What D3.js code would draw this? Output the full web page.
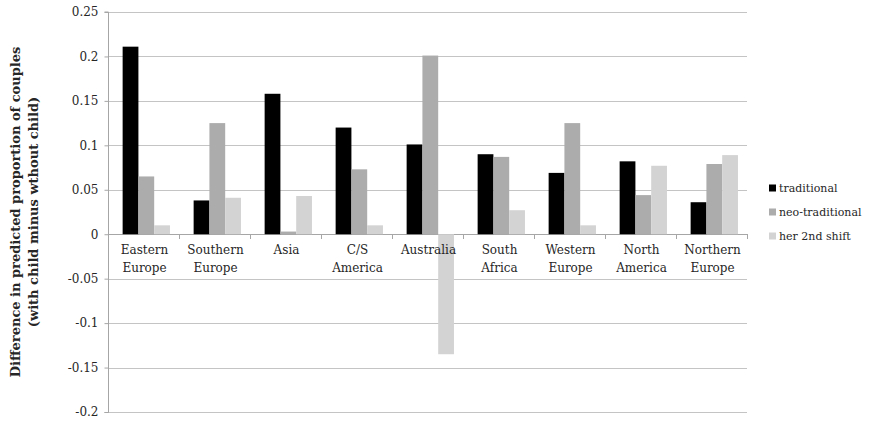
<!DOCTYPE html>
<html><head><meta charset="utf-8">
<script src="https://cdn.jsdelivr.net/npm/d3@7"></script>
<style>body{margin:0;background:#fff;} svg{display:block;} text{font-family:"DejaVu Serif",serif;fill:#262626;}</style>
</head><body><svg id="c" width="875" height="421"></svg>
<script>
const categories = [["Eastern","Europe"],["Southern","Europe"],["Asia"],["C/S","America"],["Australia"],["South","Africa"],["Western","Europe"],["North","America"],["Northern","Europe"]];
const seriesNames = ["traditional","neo-traditional","her 2nd shift"];
const traditional   = [0.211, 0.038, 0.158, 0.120, 0.101, 0.090, 0.069, 0.082, 0.036];
const neoTraditional = [0.065, 0.125, 0.003, 0.073, 0.201, 0.087, 0.125, 0.044, 0.079];
const her2ndShift   = [0.010, 0.041, 0.043, 0.010, -0.135, 0.027, 0.010, 0.077, 0.089];
const yTicks = [0.25,0.2,0.15,0.1,0.05,0,-0.05,-0.1,-0.15,-0.2];
const colors = ["#000000","#acacac","#d3d3d3"];
const series = [traditional, neoTraditional, her2ndShift];

const svg = d3.select("#c");
const L = 108, R = 747, T = 12, B = 412;
const y = d3.scaleLinear().domain([-0.2,0.25]).range([B,T]);
const idx = categories.map((d,i)=>i);
const x0 = d3.scaleBand().domain(idx).range([L,R]);
const bw = x0.bandwidth()/4.5;
const off = x0.bandwidth()*0.75/4.5 + 2.8;
const x1b = d3.scaleBand().domain([0,1,2]).range([off, off + 3*bw]);

// gridlines
svg.append("g").selectAll("line").data(yTicks).join("line")
  .attr("x1",L).attr("x2",R).attr("y1",d=>Math.round(y(d))+0.5).attr("y2",d=>Math.round(y(d))+0.5)
  .attr("stroke",d=>d===0?"#a6a6a6":"#c4c4c4").attr("stroke-width",1);

// bars
series.forEach((vals,s)=>{
  svg.append("g").selectAll("rect").data(vals).join("rect")
    .attr("x",(d,i)=>x0(i)+x1b(s))
    .attr("width",x1b.bandwidth())
    .attr("y",d=>y(Math.max(0,d)))
    .attr("height",d=>Math.abs(y(d)-y(0)))
    .attr("fill",colors[s]);
});

// y axis
const yAxis = d3.axisLeft(y).tickValues(yTicks).tickSize(4).tickPadding(6).tickFormat(d=>d===0?"0":String(d));
const gy = svg.append("g").attr("transform",`translate(${L+0.5},0)`).call(yAxis);
gy.select(".domain").attr("stroke","#a6a6a6").attr("d",`M-4,${B+0.5}H0V${T}H-4`);
gy.selectAll(".tick line").attr("stroke","#a6a6a6");
gy.selectAll(".tick text").attr("font-size","12px").attr("font-family","DejaVu Serif").attr("fill","#262626");

// x axis ticks at zero line
const xb = d3.range(categories.length+1).map(i=>L + i*x0.bandwidth());
svg.append("g").selectAll("line").data(xb).join("line")
  .attr("x1",d=>Math.round(d)+0.5).attr("x2",d=>Math.round(d)+0.5)
  .attr("y1",Math.round(y(0))).attr("y2",Math.round(y(0))+5)
  .attr("stroke","#a6a6a6");

// category labels
const lab = svg.append("g").selectAll("text").data(categories).join("text")
  .attr("text-anchor","middle").attr("font-size","12px")
  .attr("transform",(d,i)=>`translate(${x0(i)+x0.bandwidth()/2+1},${Math.round(y(0))+20})`);
lab.selectAll("tspan").data(d=>d).join("tspan")
  .attr("x",0).attr("dy",(d,i)=>i===0?0:18).text(d=>d);

// y title
const yt = svg.append("text").attr("transform",`translate(20,${(T+B)/2}) rotate(-90)`)
  .attr("text-anchor","middle").attr("font-size","13px").attr("font-weight","bold");
yt.append("tspan").attr("x",0).attr("dy",0).text("Difference in predicted proportion of couples");
yt.append("tspan").attr("x",0).attr("dy",18).text("(with child minus wthout child)");

// legend
const lg = svg.append("g").selectAll("g").data(seriesNames).join("g")
  .attr("transform",(d,i)=>`translate(769,${188 + i*24})`);
lg.append("rect").attr("x",0).attr("y",-3.5).attr("width",7).attr("height",7).attr("fill",(d,i)=>colors[i]);
lg.append("text").attr("x",10).attr("y",4).attr("font-size","11px").text(d=>d);
</script></body></html>
